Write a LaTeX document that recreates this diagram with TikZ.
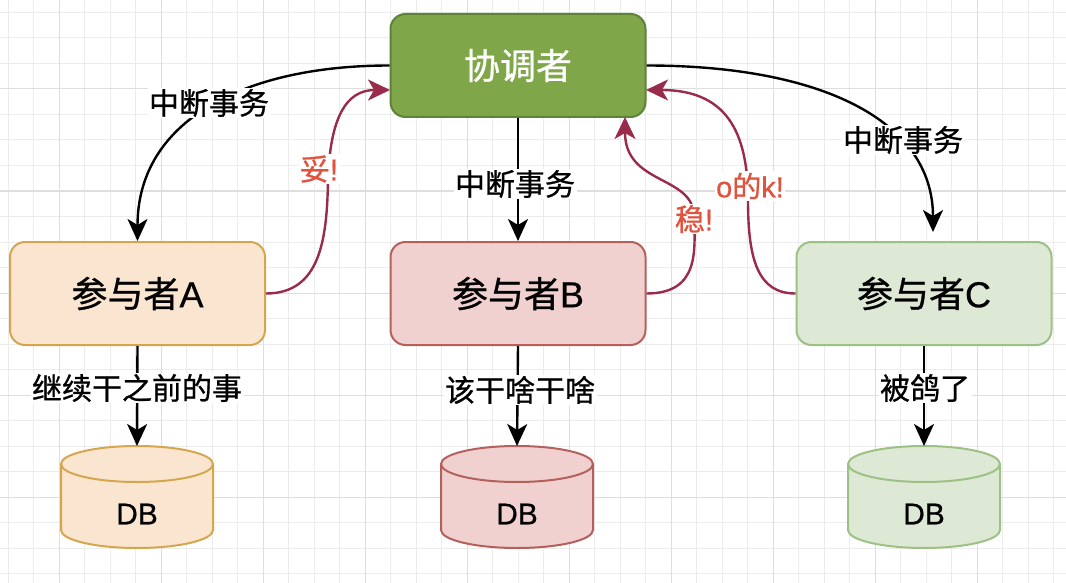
\documentclass[tikz,border=0pt]{standalone}
\usepackage{fontspec}
\setmainfont[FakeBold=0.6]{Liberation Sans}
\newfontfamily\zh[FakeBold=0.8]{Noto Sans CJK SC}
\usetikzlibrary{arrows.meta}
\definecolor{coFill}{HTML}{7FA74A}
\definecolor{coLine}{HTML}{5D8238}
\definecolor{aFill}{HTML}{FAE6D0}
\definecolor{aLine}{HTML}{D5A64E}
\definecolor{bFill}{HTML}{F1D1CF}
\definecolor{bLine}{HTML}{B4605C}
\definecolor{cFill}{HTML}{DDE8D5}
\definecolor{cLine}{HTML}{9DC185}
\definecolor{ackLine}{HTML}{992C4A}
\definecolor{ackText}{HTML}{E0533F}
\definecolor{gridMinor}{HTML}{ECECEC}
\definecolor{gridMajor}{HTML}{DEDEDE}
\newcommand\dbcyl[3]{%
  \filldraw[fill=#2, draw=#3, line width=2pt]
    (#1-76,464) -- (#1-76,530)
    .. controls (#1-76,540) and (#1-42,548) .. (#1,548)
    .. controls (#1+42,548) and (#1+76,540) .. (#1+76,530) -- (#1+76,464);
  \filldraw[fill=#2, draw=#3, line width=2pt] (#1,464) ellipse [x radius=76, y radius=18];
}
\begin{document}
\begin{tikzpicture}[x=1pt,y=-1pt,
  boxstyle/.style={rectangle, rounded corners=15pt, line width=2pt,
    minimum width=255pt, minimum height=103pt, inner sep=0pt,
    font=\fontsize{36}{40}\selectfont},
  lbl/.style={fill=white, inner sep=1.5pt, font=\fontsize{30}{34}\selectfont},
  acklbl/.style={fill=white, inner sep=1.5pt, text=ackText, font=\fontsize{30}{34}\selectfont},
  dbtxt/.style={inner sep=0pt, font=\fontsize{30}{34}\selectfont},
  blk/.style={line width=2.4pt, draw=black, -{Stealth[length=22pt,width=20pt,inset=6pt]}},
  ack/.style={line width=2.4pt, draw=ackLine, -{Stealth[length=22pt,width=21pt,inset=6pt]}},
]
\useasboundingbox (0,0) rectangle (1066,583);
\fill[white] (0,0) rectangle (1066,583);
% grid
\foreach \k in {0,...,41} \draw[gridMinor, line width=1pt] ({8+25.5*\k},0) -- ({8+25.5*\k},583);
\foreach \k in {0,...,22} \draw[gridMinor, line width=1pt] (0,{12.5+25.5*\k}) -- (1066,{12.5+25.5*\k});
\foreach \k in {2,6,...,38} \draw[gridMajor, line width=1pt] ({8+25.5*\k},0) -- ({8+25.5*\k},583);
\foreach \k in {3,7,...,19} \draw[gridMajor, line width=1pt] (0,{12.5+25.5*\k}) -- (1066,{12.5+25.5*\k});

% databases
\dbcyl{137}{aFill}{aLine}
\dbcyl{517}{bFill}{bLine}
\dbcyl{924}{cFill}{cLine}
\node[dbtxt] (dbA) at (137,514) {DB};
\node[dbtxt] (dbB) at (517,514) {DB};
\node[dbtxt] (dbC) at (924,514) {DB};
\coordinate (dbAtop) at (137,446);
\coordinate (dbBtop) at (517,446);
\coordinate (dbCtop) at (924,446);

% boxes
\node[boxstyle, fill=coFill, draw=coLine, text=white] (co) at (518,65.5) {\zh 协调者};
\node[boxstyle, fill=aFill, draw=aLine] (pA) at (137.5,293.5) {{\zh 参与者}A};
\node[boxstyle, fill=bFill, draw=bLine] (pB) at (518,293.5) {{\zh 参与者}B};
\node[boxstyle, fill=cFill, draw=cLine] (pC) at (924,293.5) {{\zh 参与者}C};

\coordinate (coA) at (390,90);
\coordinate (coB) at (625,117);
\coordinate (coC) at (646,90);
\coordinate (cEnd) at (933,232);

% abort edges
\draw[blk] (co.west) .. controls (245,65.5) and (137.5,120) .. (pA.north);
\draw[blk] (co.south) -- (pB.north);
\draw[blk] (co.east) .. controls (820,65.5) and (933,120) .. (cEnd);

% ack edges
\draw[ack] (pA.east) .. controls (320,293.5) and (327,240) .. (328,180)
  .. controls (330,120) and (345,90) .. (coA);
\draw[ack] (pB.east) .. controls (700,293.5) and (695,250) .. (694,215)
  .. controls (692,175) and (625,185) .. (coB);
\draw[ack] (pC.west) .. controls (758,293.5) and (748,260) .. (748,200)
  .. controls (748,130) and (725,90) .. (coC);

% db edges
\draw[blk] (pA.south) -- (dbAtop);
\draw[blk] (pB.south) -- (dbBtop);
\draw[blk] (pC.south) -- (dbCtop);

% labels
\node[lbl] (l1) at (209,103) {\zh 中断事务};
\node[lbl] (l2) at (515,184) {\zh 中断事务};
\node[lbl] (l3) at (903,140) {\zh 中断事务};
\node[acklbl] (k1) at (319,169) {{\zh 妥}!};
\node[acklbl] (k2) at (694,219) {{\zh 稳}!};
\node[acklbl, font=\fontsize{29}{32}\selectfont] (k3) at (750,186) {o{\zh 的}k!};
\node[lbl] (d1) at (137,388) {\zh 继续干之前的事};
\node[lbl] (d2) at (520,390) {\zh 该干啥干啥};
\node[lbl] (d3) at (925,388) {\zh 被鸽了};
\end{tikzpicture}
\end{document}
